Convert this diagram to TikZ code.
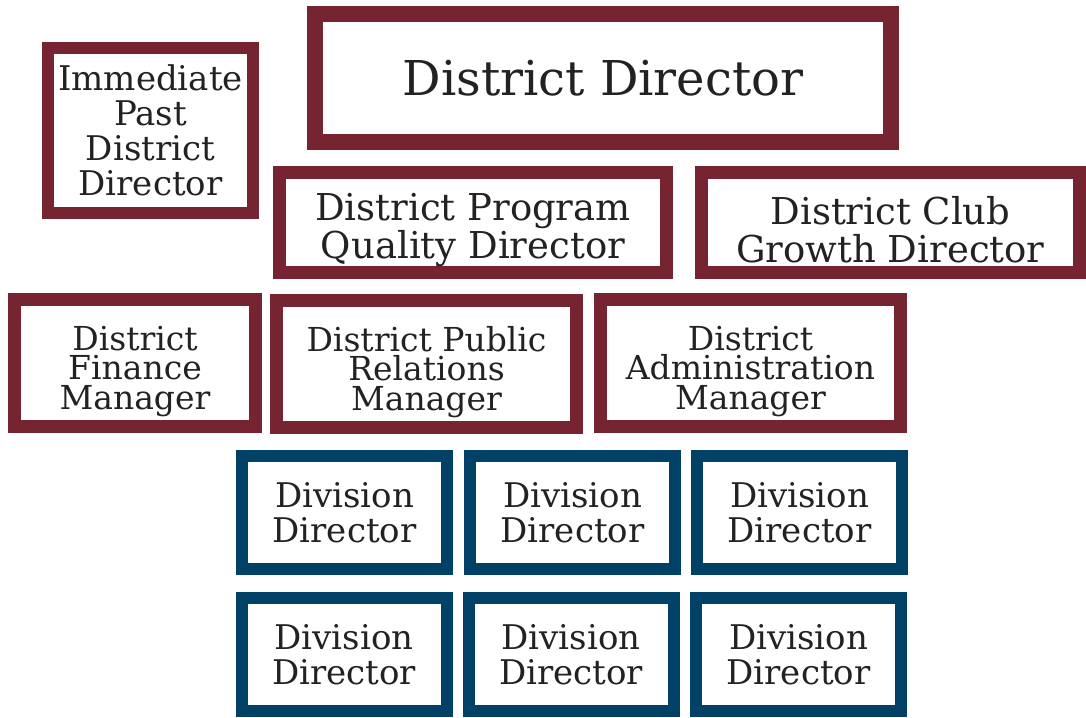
\documentclass[tikz,border=0pt]{standalone}
\usepackage{fontspec}
\setmainfont{DejaVu Serif}

\definecolor{tmmaroon}{HTML}{772432}
\definecolor{tmnavy}{HTML}{004165}
\definecolor{tmtext}{HTML}{222222}

% pushes the first line of a box down a little
\newcommand\toppad[1]{\rule{0pt}{#1}}

\tikzset{
  district/.style={draw=tmmaroon,line width=13pt,fill=white,text=tmtext,align=center,inner sep=0pt},
  division/.style={draw=tmnavy,line width=12pt,fill=white,text=tmtext,align=center,inner sep=0pt,
    minimum width=205pt,minimum height=113pt,font=\fontsize{34}{35}\selectfont}
}

\begin{document}
\begin{tikzpicture}
    [x=1pt,y=-1pt]
    \useasboundingbox (0,0) rectangle (1086,717);

    \node[district,line width=16pt,minimum width=576pt,minimum height=128pt,font=\fontsize{48}{50}\selectfont] (dd) at (603,78) {District Director};
    \node[district,line width=12pt,minimum width=205pt,minimum height=165pt,font=\fontsize{34}{35}\selectfont] (ipdd) at (150.5,130.5) {Immediate\\Past\\District\\Director};

    \node[district,minimum width=387pt,minimum height=100pt,font=\fontsize{37}{38}\selectfont] (pqd) at (473,222.5) {\toppad{42pt}District Program\\Quality Director};
    \node[district,minimum width=378pt,minimum height=100pt,font=\fontsize{37}{38}\selectfont] (cgd) at (890.5,222.5) {\toppad{42pt}District Club\\Growth Director};

    \node[district,minimum width=241pt,minimum height=127pt,font=\fontsize{33}{29.5}\selectfont] (fm) at (135,363) {\toppad{41pt}District\\Finance\\Manager};
    \node[district,minimum width=300pt,minimum height=127pt,font=\fontsize{33}{29.5}\selectfont] (prm) at (426.5,364) {\toppad{41pt}District Public\\Relations\\Manager};
    \node[district,minimum width=300pt,minimum height=127pt,font=\fontsize{33}{29.5}\selectfont] (am) at (750.5,363) {\toppad{41pt}District\\Administration\\Manager};

    \node[division] (div1) at (344.5,512.5) {Division\\Director};
    \node[division] (div2) at (572.5,512.5) {Division\\Director};
    \node[division] (div3) at (799.5,512.5) {Division\\Director};
    \node[division] (div4) at (344,654.5) {Division\\Director};
    \node[division] (div5) at (571,654.5) {Division\\Director};
    \node[division] (div6) at (798.5,654.5) {Division\\Director};
\end{tikzpicture}
\end{document}
